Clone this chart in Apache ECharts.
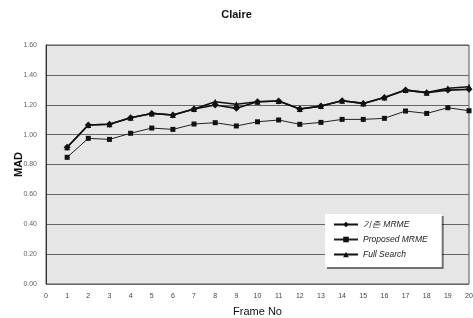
<!DOCTYPE html>
<html><head><meta charset="utf-8">
<script src="https://cdn.jsdelivr.net/npm/echarts@6/dist/echarts.min.js"></script>
<style>html,body{margin:0;padding:0;background:#fff}#c{width:473px;height:318px}</style>
</head><body><div id="c"></div>
<script>
const frames = [1,2,3,4,5,6,7,8,9,10,11,12,13,14,15,16,17,18,19,20];
const mrme = [0.915,1.064,1.069,1.113,1.142,1.131,1.171,1.198,1.176,1.220,1.225,1.171,1.191,1.227,1.209,1.249,1.298,1.281,1.298,1.303];
const proposed = [0.848,0.975,0.968,1.009,1.044,1.035,1.071,1.080,1.058,1.086,1.098,1.069,1.082,1.102,1.102,1.109,1.158,1.142,1.180,1.160];
const fullSearch = [0.915,1.064,1.069,1.113,1.142,1.131,1.171,1.220,1.203,1.220,1.225,1.171,1.191,1.227,1.209,1.249,1.298,1.281,1.310,1.321];
const seriesNames = ['기존 MRME','Proposed MRME','Full Search'];

const font = 'Liberation Sans, Arial, sans-serif';
const pair = a => frames.map((f,i)=>[f,a[i]]);
const chart = echarts.init(document.getElementById('c'));
chart.setOption({
  animation:false,
  title:{text:'Claire',left:'center',top:4,textStyle:{fontFamily:font,fontSize:11,fontWeight:'bold',color:'#111'}},
  grid:{left:46,right:4,top:45,bottom:34,containLabel:false,outerBoundsMode:'none',show:true,backgroundColor:'#e6e6e6',borderColor:'#555',borderWidth:1},
  xAxis:{type:'value',min:0,max:20,interval:1,name:'Frame No',nameLocation:'middle',nameGap:22,
    nameTextStyle:{fontFamily:font,fontSize:11,color:'#111'},
    axisLine:{show:false},axisTick:{show:false},splitLine:{show:false},
    axisLabel:{fontFamily:font,fontSize:7,color:'#444',margin:9}},
  yAxis:{type:'value',min:0,max:1.6,interval:0.2,name:'MAD',nameLocation:'middle',nameGap:22,nameMoveOverlap:false,
    nameTextStyle:{fontFamily:font,fontSize:11,fontWeight:'bold',color:'#111'},
    axisLine:{show:true,lineStyle:{color:'#333'}},axisTick:{show:false},
    splitLine:{show:true,lineStyle:{color:'#666',width:1}},
    axisLabel:{fontFamily:font,fontSize:7,color:'#666',margin:9,formatter:v=>v.toFixed(2)}},
  legend:{orient:'vertical',left:325,top:214,itemGap:6,itemWidth:24,itemHeight:7,
    backgroundColor:'#fff',padding:[6,14,8,8],
    shadowColor:'rgba(0,0,0,0.5)',shadowOffsetX:2,shadowOffsetY:2,shadowBlur:0,
    textStyle:{fontFamily:font,fontSize:8.5,color:'#222',fontStyle:'italic'},
    data:seriesNames},
  series:[
    {name:seriesNames[0],type:'line',data:pair(mrme),symbol:'diamond',symbolSize:7,
      lineStyle:{color:'#111',width:1.6},itemStyle:{color:'#111'}},
    {name:seriesNames[1],type:'line',data:pair(proposed),symbol:'rect',symbolSize:5,
      lineStyle:{color:'#222',width:1},itemStyle:{color:'#111'}},
    {name:seriesNames[2],type:'line',data:pair(fullSearch),symbol:'triangle',symbolSize:6,
      lineStyle:{color:'#111',width:1.6},itemStyle:{color:'#111'}}
  ]
});
</script></body></html>
